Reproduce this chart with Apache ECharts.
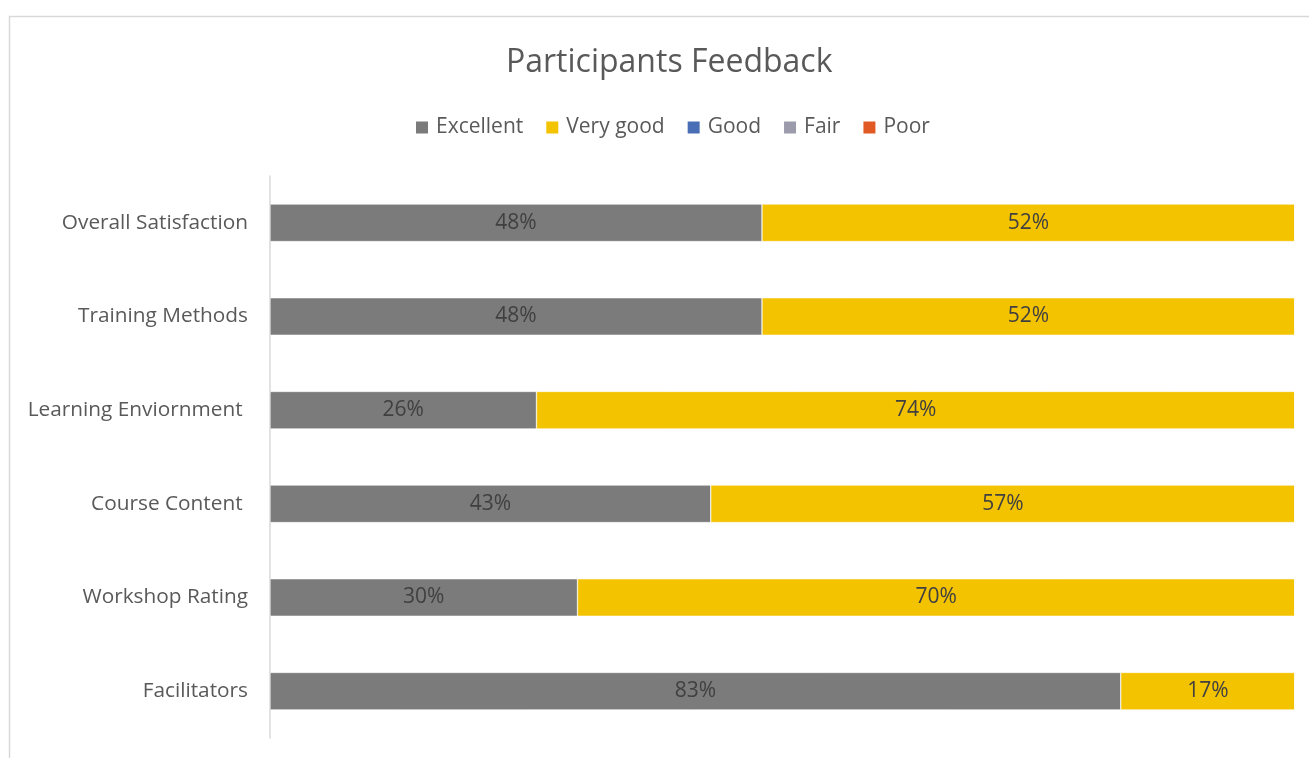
<!DOCTYPE html>
<html>
<head>
<meta charset="utf-8">
<script src="https://cdn.jsdelivr.net/npm/echarts@6/dist/echarts.min.js"></script>
<style>
  html, body { margin: 0; padding: 0; background: #fff; }
  #chart { width: 1309px; height: 758px; }
</style>
</head>
<body>
<div id="chart"></div>
<script>
// bottom-to-top order, as the category axis draws them
const categories = ['Facilitators', 'Workshop Rating', 'Course Content ', 'Learning Enviornment ', 'Training Methods', 'Overall Satisfaction']
const excellent = [83, 30, 43, 26, 48, 48]
const veryGood = [17, 70, 57, 74, 52, 52]
const good = [0, 0, 0, 0, 0, 0]
const fair = [0, 0, 0, 0, 0, 0]
const poor = [0, 0, 0, 0, 0, 0]

const seriesNames = ['Excellent', 'Very good', 'Good', 'Fair', 'Poor']
const seriesData = [excellent, veryGood, good, fair, poor]
const COLORS = ['#7b7b7b', '#f4c300', '#4a6eb5', '#9b9bab', '#e15a23']

const FONT = '"Open Sans", sans-serif'

const chart = echarts.init(document.getElementById('chart'))

chart.setOption({
  animation: false,
  color: COLORS,
  title: {
    text: 'Participants Feedback',
    left: 501,
    top: 42,
    textStyle: { fontFamily: FONT, fontSize: 32, fontWeight: 'normal', color: '#595959' },
  },
  legend: {
    top: 112,
    left: 409,
    itemWidth: 14,
    itemHeight: 14,
    itemGap: 21,
    icon: 'rect',
    textStyle: { fontFamily: FONT, fontSize: 21, color: '#595959', padding: [0, 0, 0, 2] },
    data: seriesNames,
  },
  graphic: [{
    type: 'rect',
    shape: { x: 9.5, y: 16.5, width: 1400, height: 800 },
    style: { fill: 'none', stroke: '#d9d9d9', lineWidth: 1.5 },
    silent: true,
  }],
  grid: { left: 270, right: 14, top: 176, bottom: 20, containLabel: false },
  xAxis: {
    type: 'value',
    min: 0,
    max: 100,
    show: false,
  },
  yAxis: {
    type: 'category',
    data: categories,
    axisLine: { show: true, lineStyle: { color: '#d9d9d9', width: 1.5 } },
    axisTick: { show: false },
    axisLabel: { fontFamily: FONT, fontSize: 20.8, color: '#595959', margin: 22 },
  },
  series: seriesNames.map((name, i) => ({
    name,
    type: 'bar',
    stack: 'total',
    barCategoryGap: '60%',
    data: seriesData[i],
    itemStyle: { borderColor: '#ffffff', borderWidth: 0.5 },
    label: {
      show: i < 2,
      position: 'inside',
      formatter: p => (p.value > 0 ? p.value + '%' : ''),
      fontFamily: FONT,
      fontSize: 21,
      color: '#404040',
    },
  })),
})
</script>
</body>
</html>
